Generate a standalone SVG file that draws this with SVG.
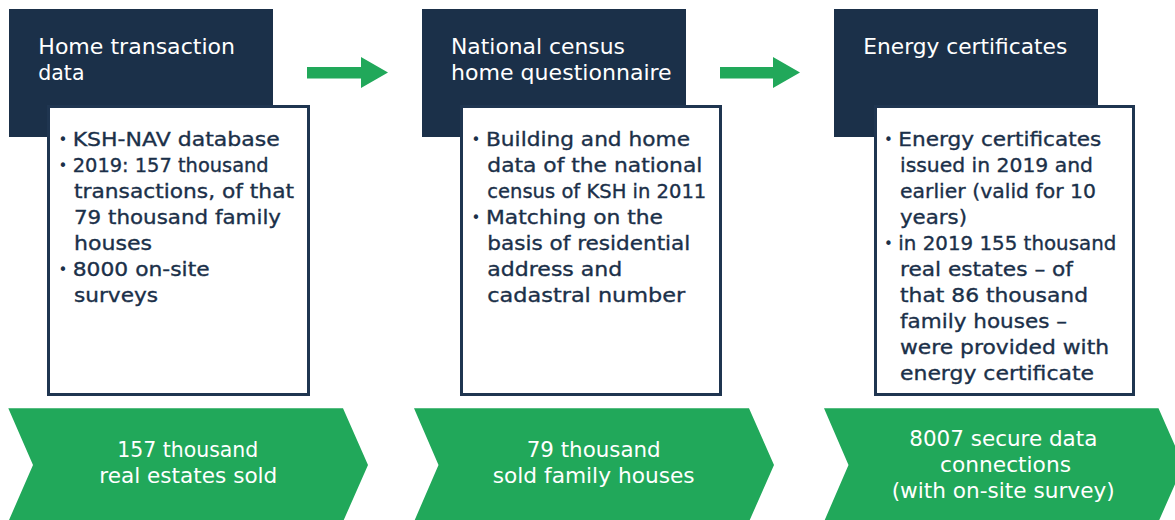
<svg xmlns="http://www.w3.org/2000/svg" width="1175" height="520" viewBox="0 0 1175 520">
<style>
.dark{fill:#1B3049}
.card{fill:#FFFFFF;stroke:#1F3550;stroke-width:3}
.green{fill:#21A85A}
.hd{font-family:"DejaVu Sans","Liberation Sans",sans-serif;font-size:20.5px;fill:#FFFFFF}
.bt{font-family:"DejaVu Sans","Liberation Sans",sans-serif;font-size:20px;fill:#1B3049;stroke:#1B3049;stroke-width:0.35px}
.bu{font-family:"DejaVu Sans","Liberation Sans",sans-serif;font-size:15px;fill:#1B3049}
.ct{font-family:"DejaVu Sans","Liberation Sans",sans-serif;font-size:20.5px;fill:#FFFFFF}
</style>
<rect width="1175" height="520" fill="#FFFFFF"/>
<g id="connectors">
<polygon class="green" points="307,67 361,67 361,57 388,72.5 361,88 361,78.5 307,78.5"/>
<polygon class="green" points="720,67 773,67 773,57 800,72.5 773,88 773,78.5 720,78.5"/>
</g>
<g id="node-home-transaction">
<rect class="dark" x="9" y="9" width="264" height="128"/>
<text class="hd" x="38.3" y="54.3" textLength="196.7" lengthAdjust="spacingAndGlyphs">Home transaction</text>
<text class="hd" x="38.3" y="80">data</text>
<rect class="card" x="48.5" y="106.5" width="260" height="288"/>
<text class="bu" x="58.5" y="144.5">•</text>
<text class="bt" x="72.7" y="145.7" textLength="207" lengthAdjust="spacingAndGlyphs">KSH-NAV database</text>
<text class="bu" x="58.5" y="170.5">•</text>
<text class="bt" x="72.7" y="171.7" textLength="196" lengthAdjust="spacingAndGlyphs">2019: 157 thousand</text>
<text class="bt" x="74" y="197.7" textLength="220" lengthAdjust="spacingAndGlyphs">transactions, of that</text>
<text class="bt" x="74" y="223.7" textLength="207" lengthAdjust="spacingAndGlyphs">79 thousand family</text>
<text class="bt" x="74" y="249.7" textLength="78" lengthAdjust="spacingAndGlyphs">houses</text>
<text class="bu" x="58.5" y="274.5">•</text>
<text class="bt" x="72.7" y="275.7" textLength="137" lengthAdjust="spacingAndGlyphs">8000 on-site</text>
<text class="bt" x="74" y="301.7" textLength="84" lengthAdjust="spacingAndGlyphs">surveys</text>
</g>
<g id="node-census">
<rect class="dark" x="422" y="9" width="264" height="128"/>
<text class="hd" x="451" y="54.3" textLength="174" lengthAdjust="spacingAndGlyphs">National census</text>
<text class="hd" x="451" y="80" textLength="220.7" lengthAdjust="spacingAndGlyphs">home questionnaire</text>
<rect class="card" x="461.5" y="106.5" width="259" height="288"/>
<text class="bu" x="471.5" y="144.5">•</text>
<text class="bt" x="486" y="145.7" textLength="204" lengthAdjust="spacingAndGlyphs">Building and home</text>
<text class="bt" x="487.3" y="171.7" textLength="215" lengthAdjust="spacingAndGlyphs">data of the national</text>
<text class="bt" x="487.3" y="197.7" textLength="219" lengthAdjust="spacingAndGlyphs">census of KSH in 2011</text>
<text class="bu" x="471.5" y="222.5">•</text>
<text class="bt" x="486" y="223.7" textLength="177" lengthAdjust="spacingAndGlyphs">Matching on the</text>
<text class="bt" x="487.3" y="249.7" textLength="203" lengthAdjust="spacingAndGlyphs">basis of residential</text>
<text class="bt" x="487.3" y="275.7" textLength="135" lengthAdjust="spacingAndGlyphs">address and</text>
<text class="bt" x="487.3" y="301.7" textLength="198" lengthAdjust="spacingAndGlyphs">cadastral number</text>
</g>
<g id="node-energy">
<rect class="dark" x="834" y="9" width="264" height="128"/>
<text class="hd" x="863.3" y="54.3" textLength="204" lengthAdjust="spacingAndGlyphs">Energy certificates</text>
<rect class="card" x="875.5" y="106.5" width="258" height="288"/>
<text class="bu" x="884" y="144.5">•</text>
<text class="bt" x="898.3" y="145.7" textLength="203" lengthAdjust="spacingAndGlyphs">Energy certificates</text>
<text class="bt" x="900" y="171.7" textLength="193" lengthAdjust="spacingAndGlyphs">issued in 2019 and</text>
<text class="bt" x="900" y="197.7" textLength="196" lengthAdjust="spacingAndGlyphs">earlier (valid for 10</text>
<text class="bt" x="900" y="223.7" textLength="67" lengthAdjust="spacingAndGlyphs">years)</text>
<text class="bu" x="884" y="248.5">•</text>
<text class="bt" x="898.3" y="249.7" textLength="218" lengthAdjust="spacingAndGlyphs">in 2019 155 thousand</text>
<text class="bt" x="900" y="275.7" textLength="173" lengthAdjust="spacingAndGlyphs">real estates – of</text>
<text class="bt" x="900" y="301.7" textLength="188" lengthAdjust="spacingAndGlyphs">that 86 thousand</text>
<text class="bt" x="900" y="327.7" textLength="167" lengthAdjust="spacingAndGlyphs">family houses –</text>
<text class="bt" x="900" y="353.7" textLength="209" lengthAdjust="spacingAndGlyphs">were provided with</text>
<text class="bt" x="900" y="379.7" textLength="194" lengthAdjust="spacingAndGlyphs">energy certificate</text>
</g>
<g id="node-result-1">
<polygon class="green" points="8.3,408.3 343,408.3 368,465 343,521.7 8.3,521.7 33,465"/>
<text class="ct" x="117.3" y="457.3" textLength="141" lengthAdjust="spacingAndGlyphs">157 thousand</text>
<text class="ct" x="99.3" y="482.7" textLength="178" lengthAdjust="spacingAndGlyphs">real estates sold</text>
</g>
<g id="node-result-2">
<polygon class="green" points="414,408.3 749,408.3 774,465 749,521.7 414,521.7 438.5,465"/>
<text class="ct" x="526.7" y="457.3" textLength="134" lengthAdjust="spacingAndGlyphs">79 thousand</text>
<text class="ct" x="492.7" y="482.7" textLength="202" lengthAdjust="spacingAndGlyphs">sold family houses</text>
</g>
<g id="node-result-3">
<polygon class="green" points="824,408.3 1158.5,408.3 1183.5,465 1158.5,521.7 824,521.7 848.5,465"/>
<text class="ct" x="909.3" y="445.7" textLength="188" lengthAdjust="spacingAndGlyphs">8007 secure data</text>
<text class="ct" x="940" y="471.7" textLength="131" lengthAdjust="spacingAndGlyphs">connections</text>
<text class="ct" x="891.7" y="497.5" textLength="223" lengthAdjust="spacingAndGlyphs">(with on-site survey)</text>
</g>
</svg>
